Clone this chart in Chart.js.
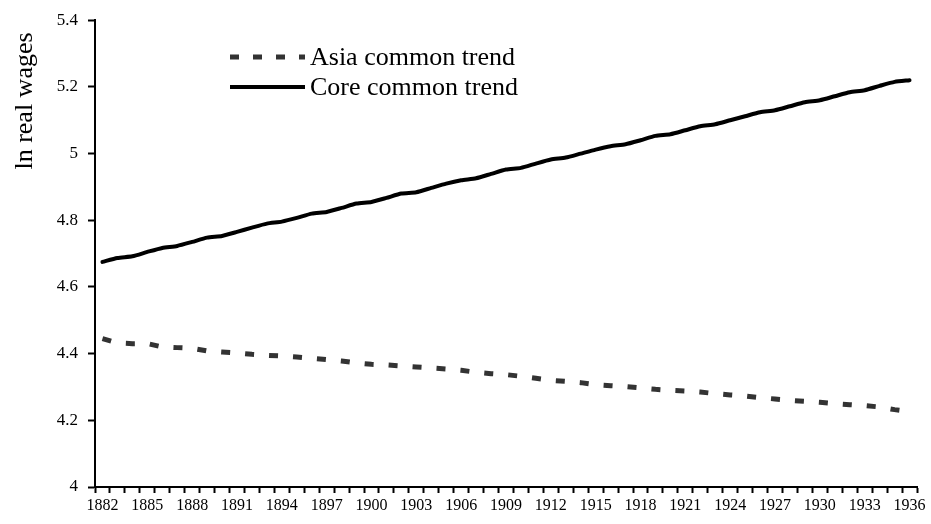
<!DOCTYPE html>
<html lang="en">

<head>
  <meta charset="UTF-8" />
  <script src="https://cdn.jsdelivr.net/npm/chart.js@4.4.0/dist/chart.umd.min.js"></script>
  <title>ln real wages - common trends</title>
  <style>
    html, body { margin: 0; padding: 0; background: #fff; }
    #grafico { width: 931px; height: 524px; }
  </style>
</head>

<body>
  <div id="grafico">
    <canvas id="canvasTendencias"></canvas>
  </div>
</body>

</html>

<script>
  // anos 1882..1936
  const anos = [
    1882, 1883, 1884, 1885, 1886, 1887, 1888, 1889, 1890, 1891,
    1892, 1893, 1894, 1895, 1896, 1897, 1898, 1899, 1900, 1901,
    1902, 1903, 1904, 1905, 1906, 1907, 1908, 1909, 1910, 1911,
    1912, 1913, 1914, 1915, 1916, 1917, 1918, 1919, 1920, 1921,
    1922, 1923, 1924, 1925, 1926, 1927, 1928, 1929, 1930, 1931,
    1932, 1933, 1934, 1935, 1936
  ];

  const asiaTrend = [
    4.445, 4.432, 4.430, 4.430, 4.420, 4.418, 4.416, 4.408, 4.405, 4.402,
    4.398, 4.395, 4.393, 4.390, 4.386, 4.382, 4.378, 4.372, 4.368, 4.366,
    4.363, 4.360, 4.357, 4.354, 4.350, 4.344, 4.340, 4.337, 4.332, 4.326,
    4.320, 4.317, 4.313, 4.307, 4.304, 4.301, 4.297, 4.293, 4.290, 4.288,
    4.285, 4.280, 4.276, 4.273, 4.268, 4.264, 4.260, 4.257, 4.254, 4.250,
    4.247, 4.244, 4.240, 4.232, 4.226
  ];

  const coreTrend = [
    4.675, 4.687, 4.692, 4.705, 4.717, 4.723, 4.735, 4.748, 4.753, 4.765,
    4.778, 4.790, 4.796, 4.807, 4.820, 4.825, 4.837, 4.850, 4.855, 4.867,
    4.880, 4.884, 4.897, 4.910, 4.920, 4.926, 4.939, 4.952, 4.957, 4.970,
    4.982, 4.988, 5.000, 5.012, 5.022, 5.028, 5.040, 5.053, 5.058, 5.070,
    5.082, 5.088, 5.100, 5.112, 5.124, 5.130, 5.142, 5.154, 5.160, 5.172,
    5.184, 5.190, 5.203, 5.215, 5.220
  ];

  const yMin = 4;
  const yMax = 5.4;
  const yPasso = 0.2;
  const tituloY = "ln real wages";

  const fonte = "'Liberation Serif', 'Times New Roman', serif";

  // legenda dentro da área do gráfico + título do eixo y (alinhado no topo)
  const legendaInterna = {
    id: "legendaInterna",
    afterDraw(chart) {
      const ctx = chart.ctx;
      const x0 = 230, x1 = 305;
      const ys = [57, 87];
      ctx.save();
      chart.data.datasets.forEach(function (ds, i) {
        ctx.beginPath();
        ctx.strokeStyle = ds.borderColor;
        ctx.lineWidth = ds.borderWidth;
        ctx.setLineDash(ds.legendDash || []);
        ctx.moveTo(x0, ys[i]);
        ctx.lineTo(x1, ys[i]);
        ctx.stroke();
        ctx.setLineDash([]);
        ctx.fillStyle = "#000";
        ctx.font = "26px " + fonte;
        ctx.textBaseline = "middle";
        ctx.textAlign = "left";
        ctx.fillText(ds.label, x1 + 5, ys[i] + 1);
      });

      ctx.translate(25, 101);
      ctx.rotate(-Math.PI / 2);
      ctx.font = "26px " + fonte;
      ctx.textAlign = "center";
      ctx.textBaseline = "middle";
      ctx.fillStyle = "#000";
      ctx.fillText(tituloY, 0, 0);
      ctx.restore();
    }
  };

  const dados = {
    labels: anos,
    datasets: [
      {
        label: "Asia common trend",
        data: asiaTrend,
        borderColor: "#333333",
        borderWidth: 5,
        borderDash: [9, 15],
        legendDash: [9, 14],
        borderCapStyle: "butt",
        pointRadius: 0,
        tension: 0,
        fill: false,
      },
      {
        label: "Core common trend",
        data: coreTrend,
        borderColor: "#000000",
        borderWidth: 4,
        borderCapStyle: "round",
        pointRadius: 0,
        tension: 0.2,
        fill: false,
      },
    ],
  };

  const config = {
    type: "line",
    data: dados,
    plugins: [legendaInterna],
    options: {
      responsive: true,
      maintainAspectRatio: false,
      animation: false,
      layout: { padding: { left: 0, top: 18, right: 14, bottom: 0 } },
      plugins: {
        legend: { display: false },
        tooltip: { enabled: false },
      },
      scales: {
        x: {
          type: "category",
          offset: true,
          afterFit: function (scale) { scale.height = 37; },
          grid: {
            offset: true,
            drawOnChartArea: false,
            drawTicks: true,
            tickLength: 6,
            tickWidth: 2,
            tickColor: "#000",
          },
          border: { color: "#000", width: 2 },
          ticks: {
            autoSkip: false,
            maxRotation: 0,
            minRotation: 0,
            padding: 3,
            color: "#000",
            font: { family: fonte, size: 16 },
            callback: function (valor, indice) {
              return indice % 3 === 0 ? anos[indice] : "";
            },
          },
        },
        y: {
          min: yMin,
          max: yMax,
          afterFit: function (scale) { scale.width = 95; },
          grid: {
            drawOnChartArea: false,
            drawTicks: true,
            tickLength: 7,
            tickWidth: 2,
            tickColor: "#000",
          },
          border: { color: "#000", width: 2 },
          ticks: {
            stepSize: yPasso,
            padding: 10,
            color: "#000",
            font: { family: fonte, size: 17 },
            callback: function (valor) {
              return parseFloat(valor.toFixed(1)).toString();
            },
          },
        },
      },
    },
  };

  var grafico = new Chart(document.getElementById("canvasTendencias"), config);
</script>
